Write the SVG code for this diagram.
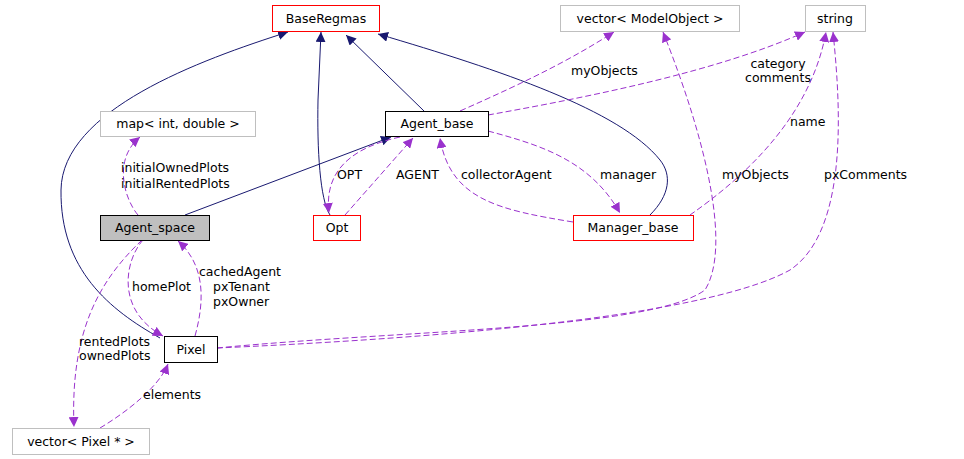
<svg xmlns="http://www.w3.org/2000/svg" width="964" height="459" viewBox="0 0 964 459">
<style>
text{font-family:"DejaVu Sans",sans-serif;font-size:12.5px;fill:#000}
.n{fill:#fff;stroke:#000;stroke-width:1}
.r{fill:#fff;stroke:#f00;stroke-width:1}
.g{fill:#fff;stroke:#bfbfbf;stroke-width:1}
.inh{fill:none;stroke:#191970;stroke-width:1;marker-end:url(#ah)}
.use{fill:none;stroke:#9a32cd;stroke-width:1;stroke-dasharray:6,3;marker-end:url(#au)}
.c{text-anchor:middle}
</style>
<defs>
<marker id="ah" viewBox="0 0 10 10" refX="10" refY="5" markerWidth="10" markerHeight="10" markerUnits="userSpaceOnUse" orient="auto"><path d="M0,0L10,5L0,10z" fill="#191970"/></marker>
<marker id="au" viewBox="0 0 10 10" refX="10" refY="5" markerWidth="10" markerHeight="10" markerUnits="userSpaceOnUse" orient="auto"><path d="M0,0L10,5L0,10z" fill="#9a32cd"/></marker>
</defs>
<rect width="964" height="459" fill="#fff"/>
<g id="connectors">
<path class="inh" d="M160,338 C110,310 60,270 61,190 C62,110 200,60 288,32"/>
<path class="inh" d="M330,215 C320,200 317,150 318,100 L321,32"/>
<path class="inh" d="M424,111 L346,35"/>
<path class="inh" d="M650,215 C670,195 672,175 660,160 C620,110 500,70 378,34"/>
<path class="inh" d="M185,215 L391,137"/>
<path class="use" d="M138,215 C125,200 112,160 140,137"/>
<path class="use" d="M143,240 C125,260 115,310 163,336"/>
<path class="use" d="M195,336 C205,300 205,265 178,241"/>
<path class="use" d="M142,240 C100,280 70,330 74,427"/>
<path class="use" d="M100,428 C130,410 160,385 168,364"/>
<path class="use" d="M217,348 C400,330 650,330 705,290 C730,250 710,150 663,32"/>
<path class="use" d="M217,348 C400,340 700,320 790,270 C850,230 840,100 833,32"/>
<path class="use" d="M400,137 C340,150 325,180 329,213"/>
<path class="use" d="M345,215 L413,138"/>
<path class="use" d="M573,222 C500,210 450,200 440,138"/>
<path class="use" d="M488,131 C540,145 590,160 620,213"/>
<path class="use" d="M460,111 C530,80 570,60 614,32"/>
<path class="use" d="M488,115 C600,95 720,70 805,32"/>
<path class="use" d="M690,215 C740,180 810,120 826,32"/>
</g>
<g id="labels">
<text x="121" y="172">initialOwnedPlots</text>
<text x="121" y="188">initialRentedPlots</text>
<text x="132" y="291">homePlot</text>
<text x="199" y="276">cachedAgent</text>
<text x="213" y="291">pxTenant</text>
<text x="213" y="306">pxOwner</text>
<text x="79" y="346">rentedPlots</text>
<text x="79" y="360">ownedPlots</text>
<text x="143" y="399">elements</text>
<text x="337" y="179">OPT</text>
<text x="396" y="179">AGENT</text>
<text x="461" y="179">collectorAgent</text>
<text x="600" y="179">manager</text>
<text x="571" y="75">myObjects</text>
<text x="778" y="68" class="c">category</text>
<text x="778" y="82" class="c">comments</text>
<text x="790" y="126">name</text>
<text x="722" y="179">myObjects</text>
<text x="824" y="179">pxComments</text>
</g>
<g id="BaseRegmas"><rect class="r" x="272.5" y="5.5" width="107" height="26"/><text class="c" x="326" y="23">BaseRegmas</text></g>
<g id="vectorModelObject"><rect class="g" x="560.5" y="5.5" width="179" height="26"/><text class="c" x="650" y="23">vector&lt; ModelObject &gt;</text></g>
<g id="string"><rect class="g" x="805.5" y="5.5" width="60" height="26"/><text class="c" x="835" y="23">string</text></g>
<g id="map"><rect class="g" x="100.5" y="111.5" width="155" height="25"/><text class="c" x="178" y="128">map&lt; int, double &gt;</text></g>
<g id="Agent_base"><rect class="n" x="385.5" y="111.5" width="103" height="25"/><text class="c" x="437" y="128">Agent_base</text></g>
<g id="Agent_space"><rect x="100.5" y="215.5" width="109" height="25" fill="#bfbfbf" stroke="#000"/><text class="c" x="155" y="232">Agent_space</text></g>
<g id="Opt"><rect class="r" x="313.5" y="215.5" width="47" height="25"/><text class="c" x="337" y="232">Opt</text></g>
<g id="Manager_base"><rect class="r" x="573.5" y="215.5" width="120" height="25"/><text class="c" x="633" y="232">Manager_base</text></g>
<g id="Pixel"><rect class="n" x="164.5" y="336.5" width="53" height="26"/><text class="c" x="191" y="354">Pixel</text></g>
<g id="vectorPixel"><rect class="g" x="12.5" y="428.5" width="137" height="26"/><text class="c" x="81" y="446">vector&lt; Pixel * &gt;</text></g>
</svg>
